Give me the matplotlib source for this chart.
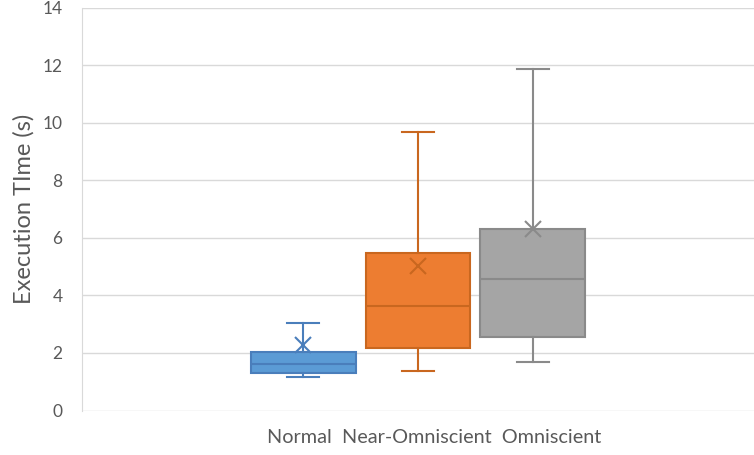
import matplotlib
matplotlib.use("Agg")
import matplotlib.pyplot as plt

# summary stats per mode (seconds)
modes = ["Normal", "Near-Omniscient", "Omniscient"]
q1 = [1.32, 2.16, 2.56]
median = [1.63, 3.63, 4.57]
q3 = [2.02, 5.48, 6.29]
whisker_low = [1.17, 1.38, 1.68]
whisker_high = [3.05, 9.67, 11.87]
mean = [2.26, 5.03, 6.30]

fills = ["#5B9BD5", "#ED7D31", "#A5A5A5"]
edges = ["#4A7EBB", "#C9671F", "#8A8A8A"]

plt.rcParams["font.family"] = ["Lato", "DejaVu Sans"]

fig = plt.figure(figsize=(7.54, 4.55), dpi=100)
ax = fig.add_axes([82 / 754, 44.5 / 455, 672 / 754, 403 / 455])

positions = [0.829, 1.0, 1.171]
for i in range(len(modes)):
    stats = [{
        "med": median[i], "q1": q1[i], "q3": q3[i],
        "whislo": whisker_low[i], "whishi": whisker_high[i],
        "mean": mean[i], "label": modes[i],
    }]
    ec = edges[i]
    ax.bxp(
        stats, positions=[positions[i]], widths=0.156, patch_artist=True,
        showmeans=True, showfliers=False,
        boxprops=dict(facecolor=fills[i], edgecolor=ec, linewidth=1.5),
        medianprops=dict(color=ec, linewidth=1.5),
        whiskerprops=dict(color=ec, linewidth=1.5),
        capprops=dict(color=ec, linewidth=1.5),
        capwidths=0.047,
        meanprops=dict(marker="x", markeredgecolor=ec, markersize=11,
                       markeredgewidth=1.5),
        zorder=3,
    )

ax.set_xlim(0.5, 1.5)
ax.set_ylim(0, 14)
ax.set_yticks(range(0, 15, 2))
ax.set_xticks([])
ax.grid(axis="y", color="#D9D9D9", linewidth=1)
ax.set_axisbelow(True)
for side in ["top", "right", "bottom"]:
    ax.spines[side].set_visible(False)
ax.spines["left"].set_color("#D9D9D9")
ax.tick_params(axis="y", length=0, labelsize=12.5, labelcolor="#595959", pad=14)
ax.set_ylabel("Execution TIme (s)", fontsize=17, color="#595959", labelpad=6)

ax.text(1.024, -0.95, "Normal  Near-Omniscient  Omniscient", ha="center",
        va="center", fontsize=14.3, color="#595959")

fig.savefig("out.png", dpi=100)
